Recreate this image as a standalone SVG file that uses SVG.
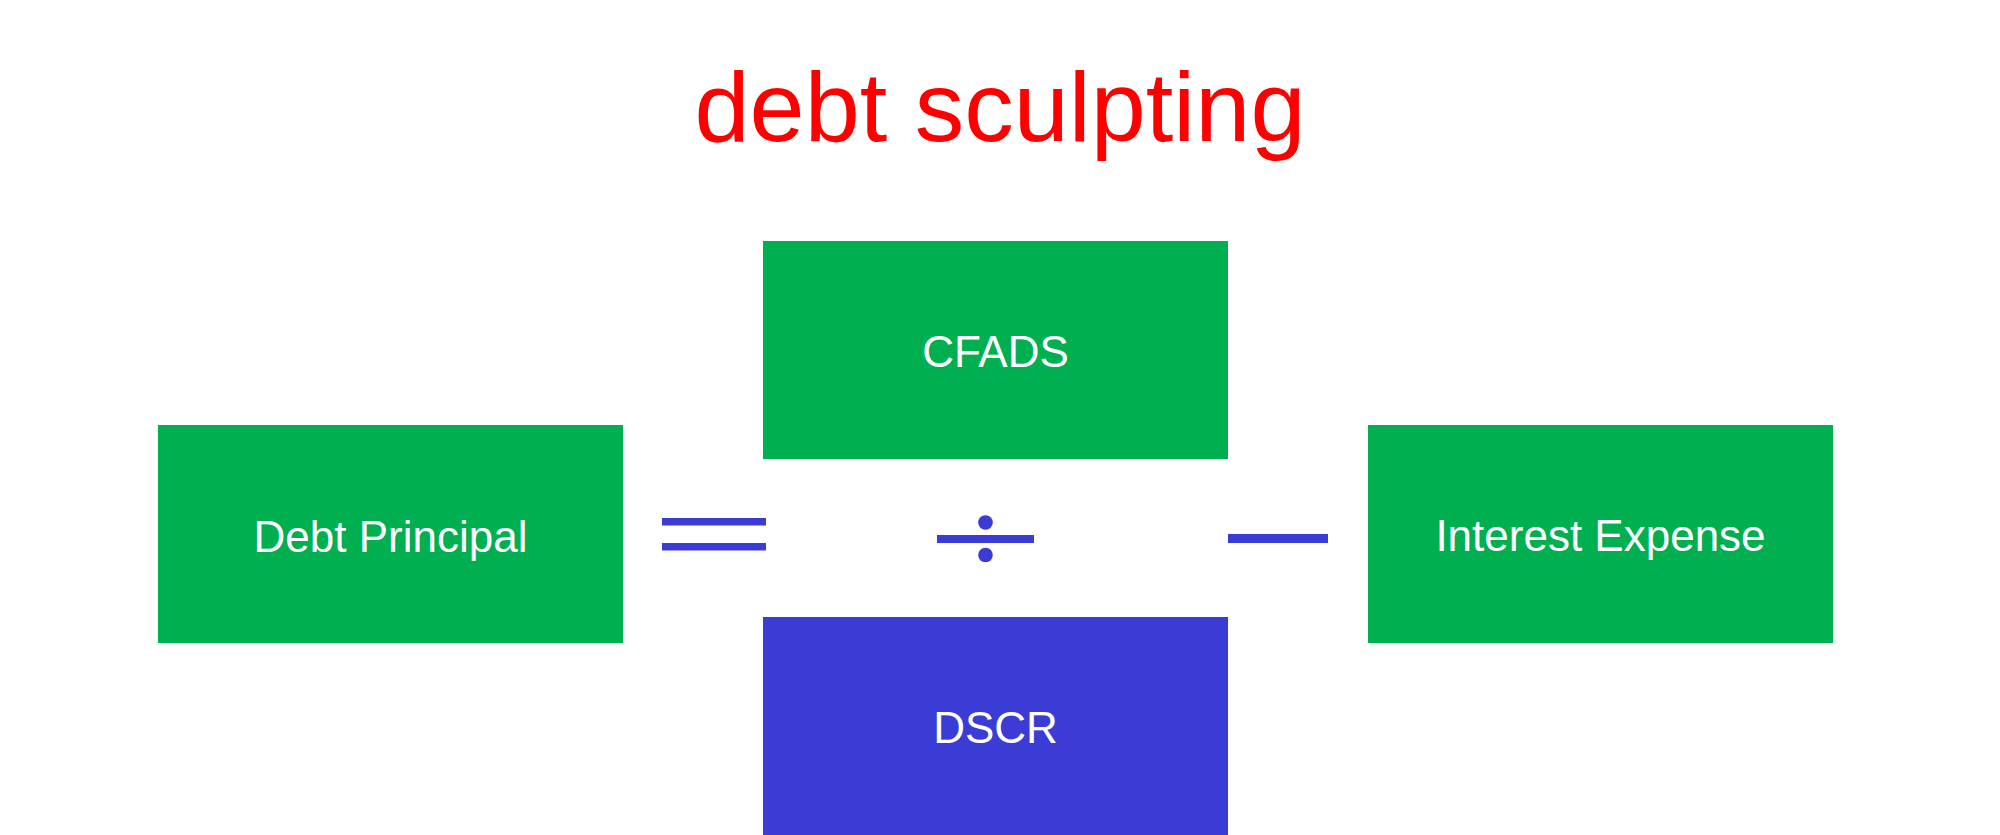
<svg xmlns="http://www.w3.org/2000/svg" width="2000" height="835" viewBox="0 0 2000 835">
  <style>
    .green { fill: #00B050; }
    .blue { fill: #3B3BD6; }
    .label { font-family: "Liberation Sans", Arial, sans-serif; font-size: 44px; fill: #FFFFFF; text-anchor: middle; }
    .title { font-family: "Liberation Sans", Arial, sans-serif; font-size: 99px; fill: #FF0000; text-anchor: middle; }
    .op { fill: #3B3BD6; }
  </style>
  <rect x="0" y="0" width="2000" height="835" fill="#FFFFFF"/>
  <g id="title">
    <text class="title" x="1000" y="141">debt sculpting</text>
  </g>
  <g id="debt-principal">
    <rect class="green" x="158" y="425" width="465" height="218"/>
    <text class="label" x="390.5" y="552">Debt Principal</text>
  </g>
  <g id="cfads">
    <rect class="green" x="763" y="241" width="465" height="218"/>
    <text class="label" x="995.5" y="367">CFADS</text>
  </g>
  <g id="dscr">
    <rect class="blue" x="763" y="617" width="465" height="218"/>
    <text class="label" x="995.5" y="743">DSCR</text>
  </g>
  <g id="interest-expense">
    <rect class="green" x="1368" y="425" width="465" height="218"/>
    <text class="label" x="1600.5" y="551">Interest Expense</text>
  </g>
  <g id="operators">
    <g id="equals">
      <rect class="op" x="662" y="518" width="104" height="7.5"/>
      <rect class="op" x="662" y="543" width="104" height="7.5"/>
    </g>
    <g id="divide">
      <rect class="op" x="937" y="535" width="97" height="8"/>
      <circle class="op" cx="985.5" cy="522.5" r="7.3"/>
      <circle class="op" cx="985.5" cy="555" r="7.3"/>
    </g>
    <g id="minus">
      <rect class="op" x="1228" y="534" width="100" height="9"/>
    </g>
  </g>
</svg>
